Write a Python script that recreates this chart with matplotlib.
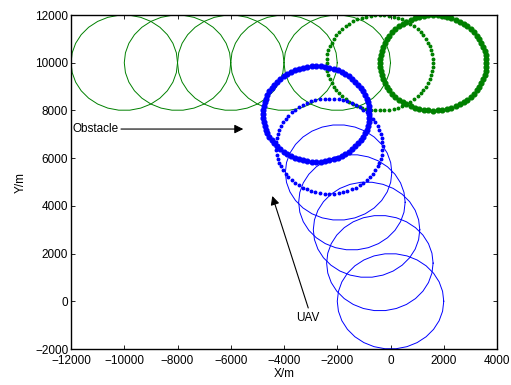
import numpy as np
import matplotlib
matplotlib.use("Agg")
import matplotlib.pyplot as plt

plt.rcParams['font.family'] = ['Liberation Sans', 'DejaVu Sans']

# Obstacle (green) circle centres
obst_thin_x = [-10000, -8000, -6000, -4000, -2000]
obst_thin_y = [10000, 10000, 10000, 10000, 10000]
obst_dot_c = (-400, 10000)
obst_bold_c = (1600, 9990)

# UAV (blue) circle centres
uav_thin_x = [0, -400, -900, -1450, -1950]
uav_thin_y = [0, 1600, 3000, 4150, 5400]
uav_dot_c = (-2300, 6500)
uav_bold_c = (-2790, 7850)

radius = 2000

xticks = [-12000, -10000, -8000, -6000, -4000, -2000, 0, 2000, 4000]
yticks = [-2000, 0, 2000, 4000, 6000, 8000, 10000, 12000]

fig = plt.figure(figsize=(5.11, 3.85), dpi=100)
ax = fig.add_axes([0.139, 0.0935, 0.8336, 0.8675])


def circ(c, n):
    t = np.linspace(0, 2 * np.pi, n + 1)
    return c[0] + radius * np.cos(t), c[1] + radius * np.sin(t)


green = '#008000'
blue = '#0000ff'

for cx, cy in zip(obst_thin_x, obst_thin_y):
    x, y = circ((cx, cy), 30)
    ax.plot(x, y, color=green, lw=0.7)
x, y = circ(obst_dot_c, 72)
ax.plot(x[:-1], y[:-1], ls='none', marker='o', ms=1.8, color=green, mec=green)
x, y = circ(obst_bold_c, 72)
ax.plot(x[:-1], y[:-1], ls='none', marker='o', ms=3.4, color=green, mec=green)

for cx, cy in zip(uav_thin_x, uav_thin_y):
    x, y = circ((cx, cy), 30)
    ax.plot(x, y, color=blue, lw=0.7)
x, y = circ(uav_dot_c, 72)
ax.plot(x[:-1], y[:-1], ls='none', marker='o', ms=1.8, color=blue, mec=blue)
x, y = circ(uav_bold_c, 76)
ax.plot(x[:-1], y[:-1], ls='none', marker='o', ms=3.4, color=blue, mec=blue)

ax.annotate('Obstacle', xy=(-5530, 7220), xytext=(-11960, 7220),
            ha='left', va='center', fontsize=8.5,
            arrowprops=dict(arrowstyle='-|>', color='black', lw=0.8,
                            mutation_scale=13, shrinkA=0, shrinkB=0))
ax.annotate('', xy=(-4440, 4414), xytext=(-3090, -280),
            arrowprops=dict(arrowstyle='-|>', color='black', lw=0.8,
                            mutation_scale=13, shrinkA=0, shrinkB=0))
ax.text(-3090, -700, 'UAV', ha='center', va='center', fontsize=8.5)

ax.set_xlim(-12000, 4000)
ax.set_ylim(-2000, 12000)
ax.set_xticks(xticks)
ax.set_yticks(yticks)
ax.tick_params(direction='in', top=True, right=True, length=3, width=0.6,
               labelsize=8.5)
ax.tick_params(axis='x', pad=4)
ax.tick_params(axis='y', pad=2)
for s in ax.spines.values():
    s.set_linewidth(1.0)
ax.set_xlabel('X/m', fontsize=8.5, labelpad=1)
ax.set_ylabel('Y/m', fontsize=8.5, labelpad=6)

fig.savefig('out.png', dpi=100)
